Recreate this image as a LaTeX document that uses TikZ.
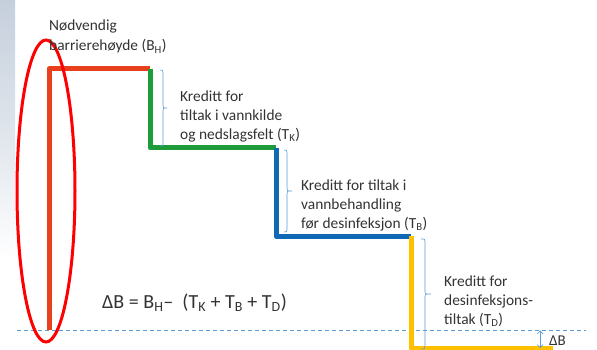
\documentclass[tikz,border=0pt]{standalone}
\usepackage{fontspec}
\setmainfont{Carlito}
\usetikzlibrary{arrows.meta}
\definecolor{txt}{HTML}{333333}
\definecolor{cred}{HTML}{E8401C}
\definecolor{cgreen}{HTML}{1E9B3A}
\definecolor{cblue}{HTML}{0F69B4}
\definecolor{cyellow}{HTML}{FFC000}
\definecolor{lblue}{HTML}{5B9BD5}
\definecolor{strip}{HTML}{C5CFDC}
\begin{document}
\begin{tikzpicture}[x=1pt,y=-1pt,
  lbl/.style={anchor=base west, inner sep=0pt, text=txt, font=\fontsize{15.4}{19}\selectfont},
  seg/.style={line width=5pt, line join=round},
  brc/.style={draw=lblue, line width=0.6pt},
]
\useasboundingbox (0,0) rectangle (597,350);
\fill[white] (0,0) rectangle (597,350);
\shade[top color=strip, bottom color=white, middle color=strip!55] (0,0) rectangle (15,260);

% dashed reference line
\coordinate (dl) at (17,330);
\coordinate (dr) at (586,330);
\draw[draw=lblue, line width=0.6pt, dash pattern=on 4pt off 3pt] (dl) -- (dr);

% steps
\coordinate (r0) at (49,330);
\coordinate (r1) at (49,69);
\coordinate (g0) at (150,69);
\coordinate (g1) at (150,148);
\coordinate (b0) at (276,148);
\coordinate (b1) at (276,236);
\coordinate (y0) at (411,236);
\coordinate (y1) at (411,348);
\coordinate (y2) at (553,348);
\draw[seg, cred] (r0) -- (r1) -- (g0);
\draw[seg, cgreen] (g0) -- (g1) -- (b0);
\draw[seg, cblue] (b0) -- (b1) -- (y0);
\draw[seg, cyellow] (y0) -- (y1) -- (y2);

% braces
\draw[brc] (160,70) .. controls (163,70) .. (163,73) -- (163,105) .. controls (163,108) .. (167,108)
  .. controls (163,108) .. (163,111) -- (163,143) .. controls (163,146) .. (160,146);
\draw[brc] (284,150) .. controls (287,150) .. (287,153) -- (287,188) .. controls (287,191) .. (292,191)
  .. controls (287,191) .. (287,194) -- (287,229) .. controls (287,232) .. (284,232);
\draw[brc] (421,239) .. controls (425,239) .. (425,242) -- (425,291) .. controls (425,294) .. (431,294)
  .. controls (425,294) .. (425,297) -- (425,346) .. controls (425,349) .. (421,349);

% red ellipse
\draw[red, line width=3pt] (46,191) ellipse [x radius=29, y radius=151];

% labels
\node[lbl] (n1) at (49,31) {Nødvendig};
\node[lbl] (n2) at (49,51) {barrierehøyde (B\textsubscript{H})};

\node[lbl] (k1) at (180,101.5) {Kreditt for};
\node[lbl] (k2) at (180,120.5) {tiltak i vannkilde};
\node[lbl] (k3) at (180,139.5) {og nedslagsfelt (T\textsubscript{K})};

\node[lbl] (b1t) at (301,190) {Kreditt for tiltak i};
\node[lbl] (b2t) at (301,209) {vannbehandling};
\node[lbl] (b3t) at (301,228) {før desinfeksjon (T\textsubscript{B})};

\node[lbl] (d1) at (444,286) {Kreditt for};
\node[lbl] (d2) at (444,305) {desinfeksjons-};
\node[lbl] (d3) at (444,324) {tiltak (T\textsubscript{D})};

\node[lbl, font=\fontsize{20}{24}\selectfont] (f) at (102,308.3)
  {ΔB = B\textsubscript{H}– \ (T\textsubscript{K} + T\textsubscript{B} + T\textsubscript{D})};

% delta B arrow
\coordinate (a0) at (540,330.5);
\coordinate (a1) at (540,348);
\draw[draw=lblue, line width=0.7pt, {Straight Barb[length=3pt,width=6pt]}-{Straight Barb[length=3pt,width=6pt]}] (a0) -- (a1);
\node[lbl, font=\fontsize{15}{18}\selectfont] (db) at (549,345.5) {ΔB};
\end{tikzpicture}
\end{document}
